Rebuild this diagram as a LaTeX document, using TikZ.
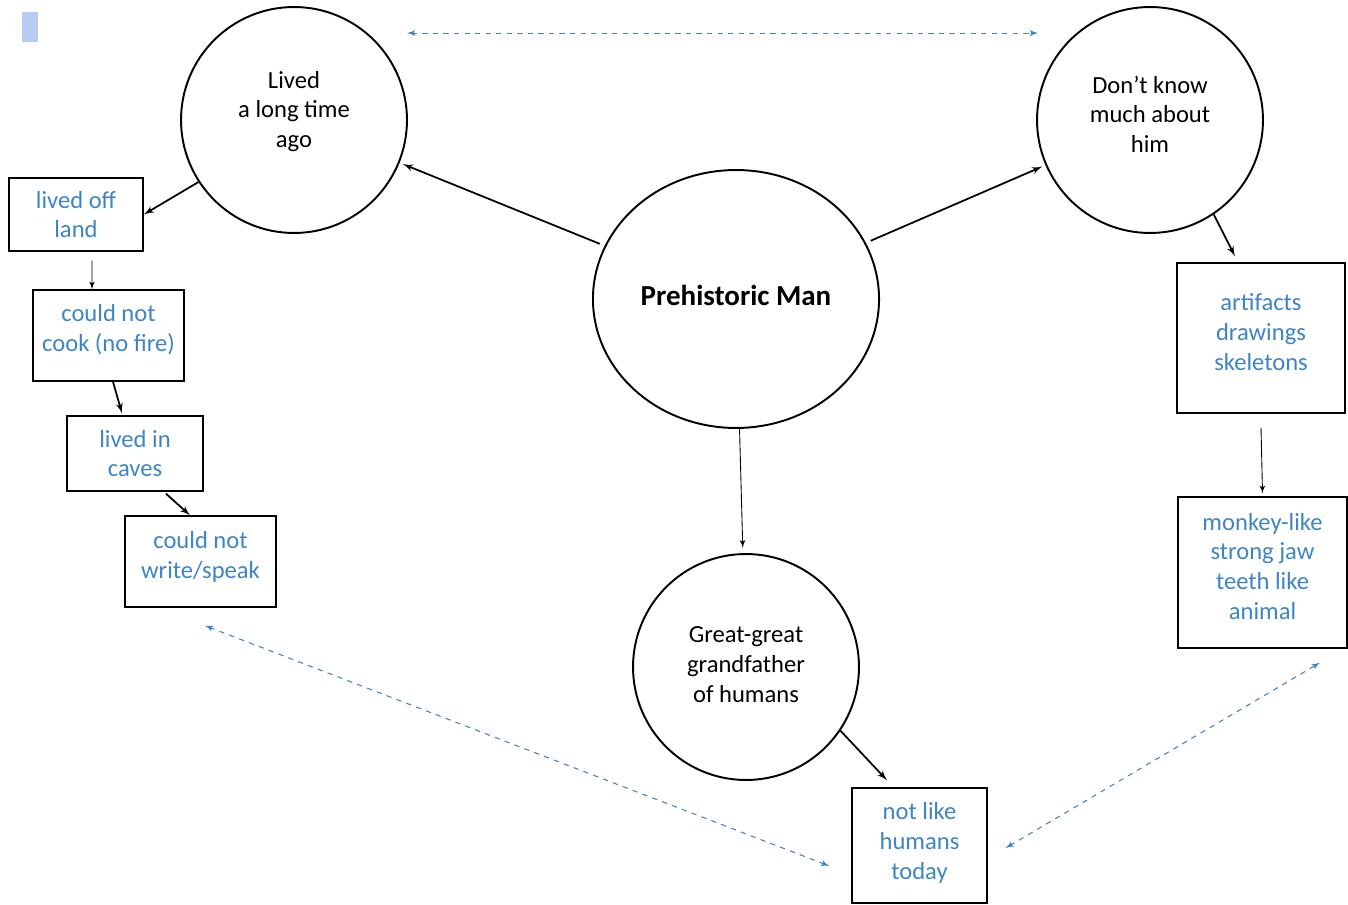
\documentclass[tikz,border=0pt]{standalone}
\usepackage{fontspec}
\setmainfont{Carlito}
\usetikzlibrary{arrows, shapes.geometric}
\definecolor{noteblue}{RGB}{61,133,198}
\definecolor{markblue}{RGB}{183,203,245}

\begin{document}
\begin{tikzpicture}[x=0.02cm, y=-0.02cm]

\tikzset{topic/.style = {shape=circle,draw,line width=1.1pt,minimum size=4.52cm,align=center,text depth=12pt,font=\fontsize{14}{17}\selectfont}}
\tikzset{fact/.style = {shape=rectangle,draw,line width=0.8pt,inner sep=1pt,align=center,text depth=7pt,text=noteblue,font=\fontsize{14}{17}\selectfont}}
\tikzset{edge/.style = {->,> = latex',line width=1pt}}
\tikzset{thinedge/.style = {->,> = latex',line width=0.5pt}}
\tikzset{link/.style = {<->,> = latex',dashed,noteblue,line width=0.6pt}}

\useasboundingbox (0,0) rectangle (1348,905);
\fill[markblue] (22,12) rectangle (38,42);

% vertices
\node[topic, shape=ellipse, minimum width=5.44cm, minimum height=5.16cm, text depth=4pt, font=\fontsize{16.5}{20}\selectfont\bfseries] (man) at (736,299) {Prehistoric Man};
\node[topic] (past) at (294,120) {Lived\\a long time\\ago};
\node[topic, text depth=6.5pt] (unknown) at (1150,120) {Don’t know\\much about\\him};
\node[topic, text depth=3pt] (ancestor) at (746,667) {Great-great\\grandfather\\of humans};

\node[fact, text depth=0pt, minimum width=2.68cm, minimum height=1.46cm] (land) at (76,214.5) {lived off\\land};
\node[fact, text depth=8.5pt, minimum width=3.02cm, minimum height=1.82cm] (cook) at (108.5,335.5) {could not\\cook (no fire)};
\node[fact, text depth=0pt, minimum width=2.72cm, minimum height=1.5cm] (caves) at (135,453.5) {lived in\\caves};
\node[fact, minimum width=3.02cm, minimum height=1.82cm] (speak) at (200.5,561.5) {could not\\write/speak};
\node[fact, minimum width=3.36cm, minimum height=3cm] (finds) at (1261,338) {artifacts\\drawings\\skeletons};
\node[fact, minimum width=3.38cm, minimum height=3.02cm] (looks) at (1262.5,572.5) {monkey-like\\strong jaw\\teeth like\\animal};
\node[fact, text depth=5.5pt, minimum width=2.7cm, minimum height=2.3cm] (today) at (919.5,845.5) {not like\\humans\\today};

%edges
\draw [edge, shorten <=3pt, shorten >=2pt] (man) -- (past);
\draw [edge, shorten <=3pt, shorten >=2pt] (man) -- (unknown);
\draw [thinedge, shorten >=3pt] (man) -- (ancestor);
\draw [edge] (past.213) -- (land.east);
\draw [thinedge] ([xshift=0.32cm, yshift=-0.18cm]land.south) -- ([xshift=-0.33cm]cook.north);
\draw [edge] ([xshift=0.09cm]cook.south) -- ([xshift=-0.26cm, yshift=0.04cm]caves.north);
\draw [edge] ([xshift=0.62cm, yshift=-0.04cm]caves.south) -- ([xshift=-0.21cm]speak.north);
\draw [edge] (unknown.-56) -- ([xshift=-0.52cm, yshift=0.12cm]finds.north);
\draw [thinedge] ([yshift=-0.28cm]finds.south) -- ([yshift=0.06cm]looks.north);
\draw [edge] (ancestor.-34) -- ([xshift=-0.65cm, yshift=0.14cm]today.north);

% dashed links
\draw [link] ([xshift=2.26cm, yshift=-0.54cm]past.north) -- ([xshift=-2.24cm, yshift=-0.54cm]unknown.north);
\draw [link] ([xshift=0.09cm, yshift=-0.36cm]speak.south) -- ([xshift=-0.44cm, yshift=-0.41cm]today.west);
\draw [link] ([xshift=0.36cm, yshift=-0.05cm]today.east) -- ([xshift=1.15cm, yshift=-0.28cm]looks.south);

\end{tikzpicture}
\end{document}
